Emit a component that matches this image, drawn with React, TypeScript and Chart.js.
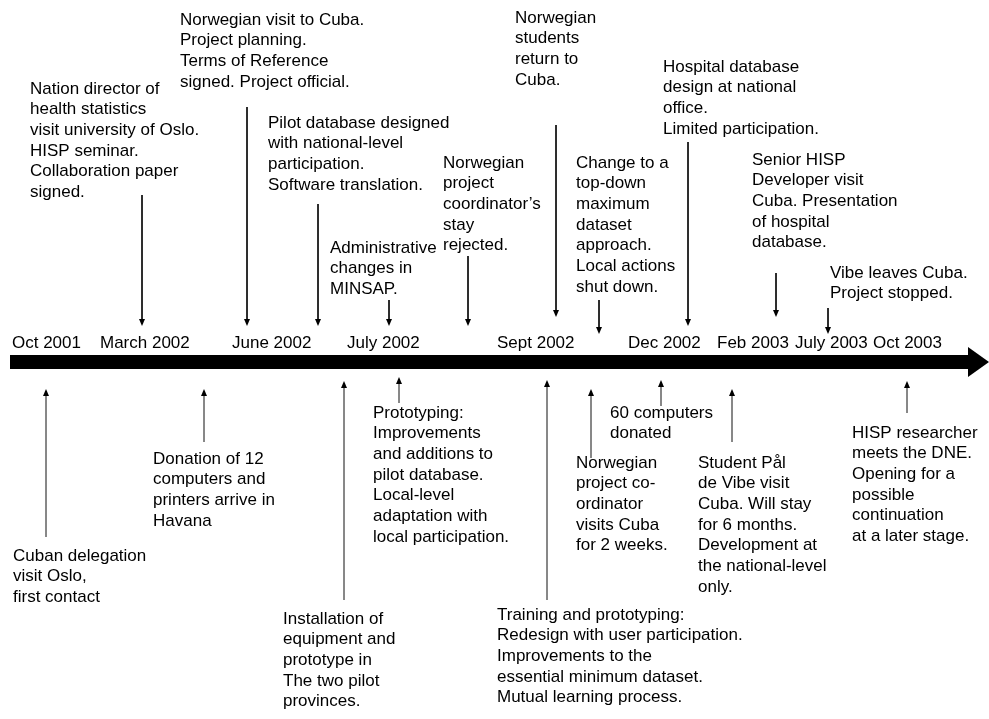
import { useEffect, useRef } from "react";
import Chart from "chart.js/auto";

// Timeline axis labels (position along the timeline scale, 0..989)
const dateLabels = ["Oct 2001", "March 2002", "June 2002", "July 2002", "Sept 2002", "Dec 2002", "Feb 2003", "July 2003", "Oct 2003"];
const dateX = [12, 100, 232, 347, 497, 628, 717, 795, 873];
const dateY = 343;

// Main timeline
const timelineStart = 10;
const timelineEnd = 968;
const timelineY = 362;

// Events above the timeline
const aboveText: string[][] = [
  ["Nation director of", "health statistics", "visit university of Oslo.", "HISP seminar.", "Collaboration paper", "signed."],
  ["Norwegian visit to Cuba.", "Project planning.", "Terms of Reference", "signed. Project official."],
  ["Pilot database designed", "with national-level", "participation.", "Software translation."],
  ["Administrative", "changes in", "MINSAP."],
  ["Norwegian", "project", "coordinator\u2019s", "stay", "rejected."],
  ["Norwegian", "students", "return to", "Cuba."],
  ["Change to a", "top-down", "maximum", "dataset", "approach.", "Local actions", "shut down."],
  ["Hospital database", "design at national", "office.", "Limited participation."],
  ["Senior HISP", "Developer visit", "Cuba. Presentation", "of hospital", "database."],
  ["Vibe leaves Cuba.", "Project stopped."],
];
const aboveTextX = [30, 180, 268, 330, 443, 515, 576, 663, 752, 830];
const aboveTextY = [89, 20, 123, 248, 163, 18, 163, 67, 160, 273];
const aboveArrowX = [142, 247, 318, 389, 468, 556, 599, 688, 776, 828];
const aboveArrowFrom = [195, 107, 204, 300, 256, 125, 300, 142, 273, 308];
const aboveArrowTip = [326, 326, 326, 326, 326, 317, 334, 326, 317, 334];

// Events below the timeline
const belowText: string[][] = [
  ["Cuban delegation", "visit Oslo,", "first contact"],
  ["Donation of 12", "computers and", "printers arrive in", "Havana"],
  ["Installation of", "equipment and", "prototype in", "The two pilot", "provinces."],
  ["Prototyping:", "Improvements", "and additions to", "pilot database.", "Local-level", "adaptation with", "local participation."],
  ["Training and prototyping:", "Redesign with user participation.", "Improvements to the", "essential minimum dataset.", "Mutual learning process."],
  ["Norwegian", "project co-", "ordinator", "visits Cuba", "for 2 weeks."],
  ["60 computers", "donated"],
  ["Student P\u00e5l", "de Vibe visit", "Cuba. Will stay", "for 6 months.", "Development at", "the national-level", "only."],
  ["HISP researcher", "meets the DNE.", "Opening for a", "possible", "continuation", "at a later stage."],
];
const belowTextX = [13, 153, 283, 373, 497, 576, 610, 698, 852];
const belowTextY = [556, 459, 619, 413, 615, 463, 413, 463, 433];
const belowArrowX = [46, 204, 344, 399, 547, 591, 661, 732, 907];
const belowArrowFrom = [537, 442, 600, 403, 600, 458, 406, 442, 413];
const belowArrowTip = [389, 389, 381, 377, 380, 389, 380, 389, 381];

const FONT = '17px "Liberation Sans", Arial, sans-serif';
const LINE_H = 20.7;

export default function App() {
  const ref = useRef<HTMLCanvasElement | null>(null);

  useEffect(() => {
    document.body.style.margin = "0";
    const canvas = ref.current;
    if (!canvas) return;

    const arrowDatasets: any[] = [];
    aboveArrowX.forEach((x, i) => {
      arrowDatasets.push({
        data: [{ x, y: aboveArrowFrom[i] }, { x, y: aboveArrowTip[i] - 6 }],
        showLine: true, borderColor: "#111", borderWidth: 1, pointRadius: 0,
      });
    });
    belowArrowX.forEach((x, i) => {
      arrowDatasets.push({
        data: [{ x, y: belowArrowFrom[i] }, { x, y: belowArrowTip[i] + 6 }],
        showLine: true, borderColor: "#111", borderWidth: 1, pointRadius: 0,
      });
    });

    const decorPlugin = {
      id: "decor",
      afterDatasetsDraw(chart: any) {
        const { ctx, scales } = chart;
        const px = (v: number) => scales.x.getPixelForValue(v);
        const py = (v: number) => scales.y.getPixelForValue(v);
        ctx.save();
        ctx.fillStyle = "#000";
        // timeline arrowhead
        ctx.beginPath();
        ctx.moveTo(px(timelineEnd), py(timelineY - 15));
        ctx.lineTo(px(989), py(timelineY));
        ctx.lineTo(px(timelineEnd), py(timelineY + 15));
        ctx.closePath();
        ctx.fill();
        // small arrowheads
        const head = (x: number, tip: number, dir: number) => {
          ctx.beginPath();
          ctx.moveTo(px(x), py(tip));
          ctx.lineTo(px(x) - 3, py(tip) - 7 * dir);
          ctx.lineTo(px(x) + 3, py(tip) - 7 * dir);
          ctx.closePath();
          ctx.fill();
        };
        aboveArrowX.forEach((x, i) => head(x, aboveArrowTip[i], 1));
        belowArrowX.forEach((x, i) => head(x, belowArrowTip[i], -1));
        // texts
        ctx.font = FONT;
        ctx.textBaseline = "middle";
        ctx.textAlign = "left";
        dateLabels.forEach((t, i) => ctx.fillText(t, px(dateX[i]), py(dateY)));
        const block = (lines: string[], x: number, y: number) => {
          lines.forEach((l, j) => ctx.fillText(l, px(x), py(y + j * LINE_H)));
        };
        aboveText.forEach((lines, i) => block(lines, aboveTextX[i], aboveTextY[i]));
        belowText.forEach((lines, i) => block(lines, belowTextX[i], belowTextY[i]));
        ctx.restore();
      },
    };

    const chart = new Chart(canvas, {
      type: "scatter",
      data: {
        datasets: [
          {
            data: [{ x: timelineStart, y: timelineY }, { x: timelineEnd, y: timelineY }],
            showLine: true, borderColor: "#000", borderWidth: 14, pointRadius: 0,
            borderCapStyle: "butt",
          } as any,
          ...arrowDatasets,
        ],
      },
      options: {
        animation: false,
        responsive: false,
        events: [],
        layout: { padding: 0 },
        scales: {
          x: { type: "linear", min: 0, max: 989, display: false },
          y: { type: "linear", min: 0, max: 719, reverse: true, display: false },
        },
        plugins: { legend: { display: false }, tooltip: { enabled: false } },
      },
      plugins: [decorPlugin],
    });
    return () => chart.destroy();
  }, []);

  return <canvas ref={ref} width={989} height={719} style={{ display: "block" }} />;
}
